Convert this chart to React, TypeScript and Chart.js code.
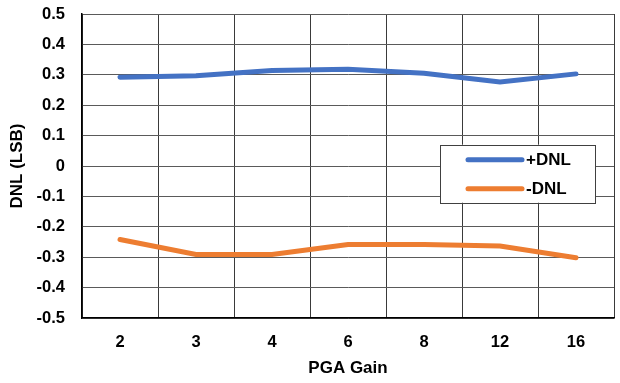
import React, { useEffect, useRef } from "react";
import { Chart, registerables } from "chart.js";

Chart.register(...registerables);

const categories = ["2", "3", "4", "6", "8", "12", "16"];
const posDnl = [0.292, 0.297, 0.314, 0.318, 0.305, 0.276, 0.303];
const negDnl = [-0.242, -0.291, -0.291, -0.258, -0.258, -0.263, -0.302];
const seriesNames = ["+DNL", "-DNL"];
const seriesColors = ["#4472C4", "#ED7D31"];

const FONT = "'Liberation Sans', Arial, sans-serif";

const boxLegend = {
  id: "boxLegend",
  afterDraw(chart: any) {
    const ctx = chart.ctx;
    const area = chart.chartArea;
    const y0 = chart.scales.y;
    const w = 155;
    const h = 58;
    const left = area.right - 19 - w;
    const top = y0.getPixelForValue(0.07);
    ctx.save();
    ctx.fillStyle = "#ffffff";
    ctx.fillRect(left, top, w, h);
    ctx.strokeStyle = "#404040";
    ctx.lineWidth = 1;
    ctx.strokeRect(Math.round(left) + 0.5, Math.round(top) + 0.5, w, h);
    chart.data.datasets.forEach((ds: any, i: number) => {
      const cy = top + 15 + i * 29;
      ctx.strokeStyle = ds.borderColor;
      ctx.lineWidth = 5;
      ctx.lineCap = "round";
      ctx.beginPath();
      ctx.moveTo(left + 28, cy);
      ctx.lineTo(left + 82, cy);
      ctx.stroke();
      ctx.fillStyle = "#000";
      ctx.font = `bold 17px ${FONT}`;
      ctx.textBaseline = "middle";
      ctx.textAlign = "left";
      ctx.fillText(ds.label, left + 86, cy + 1);
    });
    ctx.restore();
  },
};

export default function App() {
  const ref = useRef<HTMLCanvasElement>(null);
  useEffect(() => {
    if (!ref.current) return;
    const chart = new Chart(ref.current, {
      type: "line",
      data: {
        labels: categories,
        datasets: [
          {
            label: seriesNames[0],
            data: posDnl,
            borderColor: seriesColors[0],
            backgroundColor: seriesColors[0],
            borderWidth: 5,
            pointRadius: 0,
            borderCapStyle: "round",
          },
          {
            label: seriesNames[1],
            data: negDnl,
            borderColor: seriesColors[1],
            backgroundColor: seriesColors[1],
            borderWidth: 5,
            pointRadius: 0,
            borderCapStyle: "round",
          },
        ],
      },
      options: {
        animation: false,
        responsive: false,
        maintainAspectRatio: false,
        layout: { padding: { top: 14, right: 6, left: 0, bottom: 0 } },
        plugins: { legend: { display: false }, tooltip: { enabled: false } },
        scales: {
          x: {
            offset: true,
            grid: { offset: true, color: "#3a3a3a", drawTicks: false, lineWidth: 1 },
            border: { color: "#000", width: 1.5 },
            ticks: { color: "#000", font: { family: FONT, size: 16.5, weight: "bold" }, padding: 15 },
            title: {
              display: true,
              text: "PGA Gain",
              color: "#000",
              font: { family: FONT, size: 17, weight: "bold" },
              padding: { top: 11 },
            },
            afterFit(scale: any) {
              scale.height = 65;
              scale.paddingLeft = 0;
              scale.paddingRight = 0;
            },
          },
          y: {
            min: -0.5,
            max: 0.5,
            grid: { color: "#5a5a5a", drawTicks: false, lineWidth: 1 },
            border: { color: "#000", width: 1.5 },
            ticks: {
              stepSize: 0.1,
              color: "#000",
              font: { family: FONT, size: 16.5, weight: "bold" },
              padding: 17,
              callback: (v: any) => {
                const n = Math.round(Number(v) * 10) / 10;
                return n === 0 ? "0" : n.toFixed(1);
              },
            },
            title: {
              display: true,
              text: "DNL (LSB)",
              color: "#000",
              font: { family: FONT, size: 17, weight: "bold" },
              padding: { top: 7, bottom: 0 },
            },
            afterFit(scale: any) {
              scale.width = 82;
              scale.paddingTop = 0;
              scale.paddingBottom = 0;
            },
          },
        },
      },
      plugins: [boxLegend],
    });
    return () => chart.destroy();
  }, []);
  return (
    <div style={{ position: "fixed", left: 0, top: 0, width: 620, height: 383, background: "#fff" }}>
      <canvas ref={ref} width={620} height={383} style={{ width: 620, height: 383 }} />
    </div>
  );
}
